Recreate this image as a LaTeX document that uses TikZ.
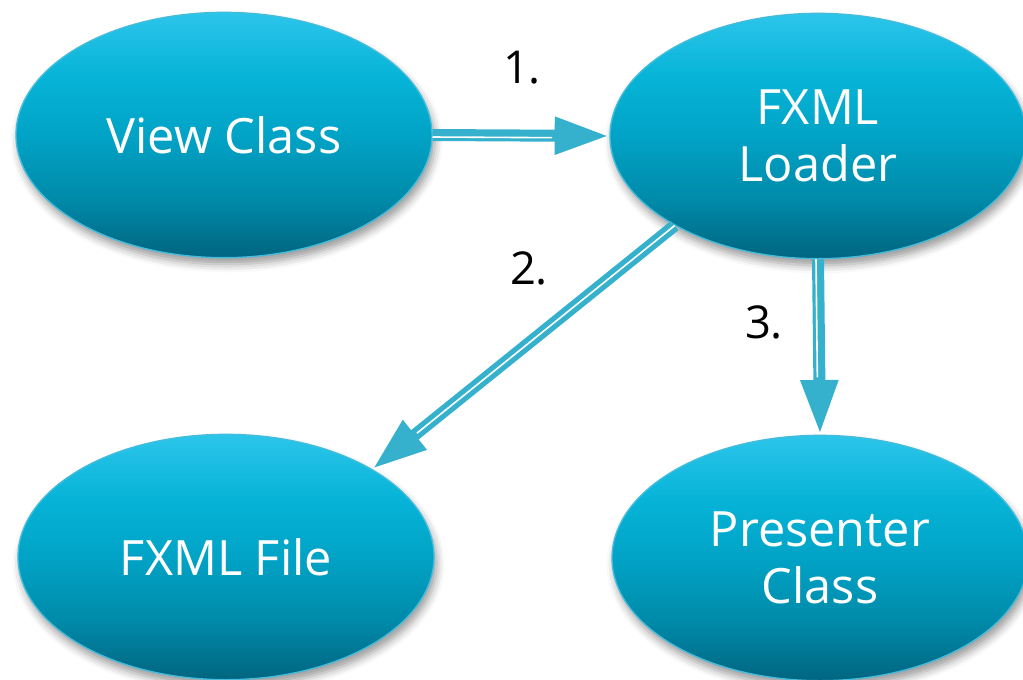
\documentclass[tikz,border=0pt]{standalone}
\usepackage{fontspec}
\setmainfont{Open Sans}
\usetikzlibrary{shapes.geometric,arrows.meta,shadows.blur}
\definecolor{ctop}{HTML}{2CC5EA}
\definecolor{cup}{HTML}{06B4D7}
\definecolor{cmid}{HTML}{01A3C6}
\definecolor{clow}{HTML}{008AA9}
\definecolor{cbot}{HTML}{006580}
\definecolor{cedge}{HTML}{45BCDC}
\definecolor{carrow}{HTML}{36B1CD}
\pgfdeclareverticalshading{ovalshade}{100bp}{color(0bp)=(cbot); color(25bp)=(cbot); color(37bp)=(clow); color(50bp)=(cmid); color(62bp)=(cup); color(75bp)=(ctop); color(100bp)=(ctop)}
\begin{document}
\begin{tikzpicture}[x=0.75pt,y=-0.75pt,
  oval/.style={ellipse, inner sep=0pt, minimum width=312pt, minimum height=184pt,
    shading=ovalshade, draw=cedge, line width=1pt,
    blur shadow={shadow xshift=2pt, shadow yshift=-5pt, shadow blur radius=6pt, shadow opacity=40},
    text=white, font=\fontsize{36.5}{43}\selectfont, align=center},
  num/.style={font=\fontsize{34}{40}\selectfont, text=black, inner sep=0pt},
  flow/.style={draw=carrow, line width=9pt,
    -{Triangle[length=41pt,width=26pt]},
    preaction={draw=black!60, opacity=0.18, transform canvas={xshift=2pt,yshift=-3pt}}},
  stripe/.style={draw=white, line width=1.2pt, shorten >=43pt}
]
\useasboundingbox (0,0) rectangle (1023,679);
\node[oval] (vc) at (224,135) {View Class};
\node[oval] (fl) at (818,136) {FXML\\Loader};
\node[oval] (ff) at (226,557) {FXML File};
\node[oval] (pc) at (820,558) {Presenter\\Class};

\draw[flow] (vc.east) -- (fl.west);
\draw[stripe, transform canvas={yshift=-1.5pt}] (vc.east) -- (fl.west);
\draw[flow] (fl.212) -- (ff.31);
\draw[stripe] (fl.212) -- (ff.31);
\draw[flow] (fl.south) -- (pc.north);
\draw[stripe, transform canvas={xshift=-1.5pt}] (fl.south) -- (pc.north);

\node[num] (n1) at (522,68) {1.};
\node[num] (n2) at (529,268) {2.};
\node[num] (n3) at (764,322) {3.};
\end{tikzpicture}
\end{document}
